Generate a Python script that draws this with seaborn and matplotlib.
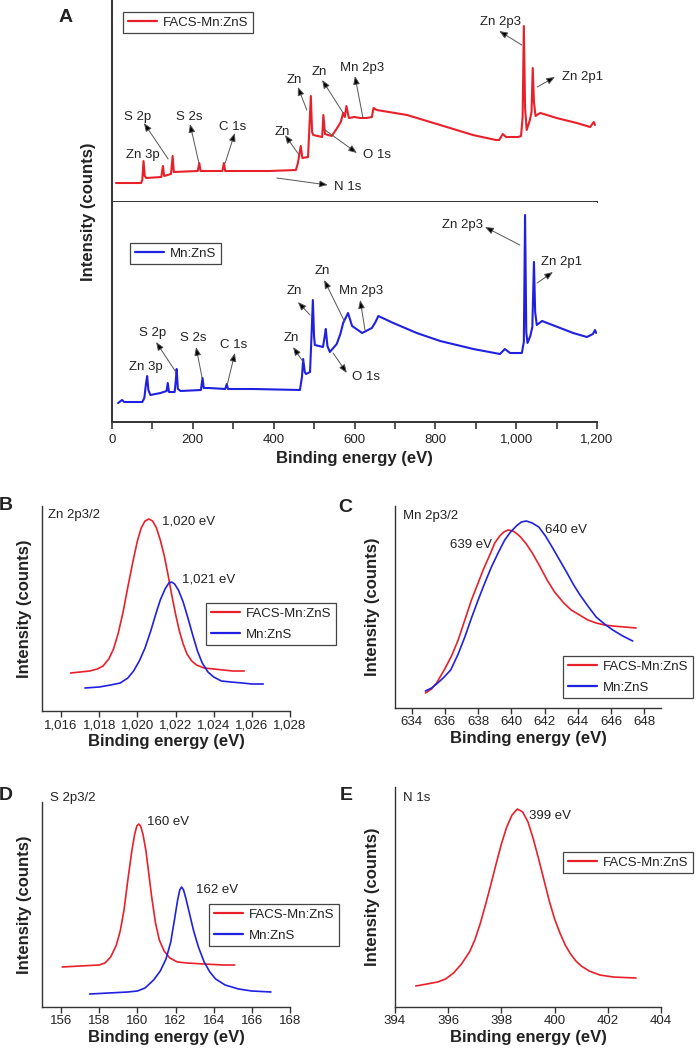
import pandas as pd
import matplotlib
matplotlib.use("Agg")
import matplotlib.pyplot as plt
import matplotlib.ticker as mticker
import seaborn as sns

# --------------------------------------------------
# data (binding energy in eV, intensity in arbitrary counts)
# --------------------------------------------------

# A - survey spectra
survey_facs_be = [10, 72, 75, 78, 81, 85, 122, 126, 129, 146, 150, 153, 212, 216, 219,
                  273, 277, 280, 390, 455, 460, 467, 471, 485, 489, 492, 495, 498, 520,
                  523, 527, 535, 544, 557, 566, 572, 576, 580, 586, 600, 614, 630, 643,
                  647, 655, 730, 812, 893, 950, 958, 967, 975, 1005, 1012, 1016, 1019,
                  1022, 1026, 1034, 1038, 1041, 1044, 1048, 1055, 1060, 1100, 1150, 1183,
                  1192, 1195]
survey_facs_int = [19, 19, 22, 41, 26, 24, 25, 36, 26, 28, 46, 30, 31, 39, 31,
                   31, 39, 31, 31, 32, 39, 56, 44, 45, 80, 106, 70, 67, 65,
                   87, 68, 67, 66, 74, 80, 89, 85, 96, 84, 85, 84, 84, 85,
                   94, 92, 87, 77, 67, 62, 62, 68, 65, 65, 66, 85, 176,
                   95, 72, 82, 90, 134, 100, 86, 88, 89, 84, 79, 75,
                   80, 77]

survey_mnzns_be = [15, 25, 30, 75, 80, 84, 87, 90, 95, 120, 135, 138, 141, 155, 158,
                   160, 163, 170, 220, 224, 227, 240, 280, 284, 287, 350, 465, 470, 473,
                   477, 480, 490, 494, 497, 500, 502, 522, 526, 529, 533, 539, 556, 565,
                   572, 584, 594, 619, 643, 652, 659, 696, 754, 812, 894, 960, 972, 985,
                   1014, 1019, 1022, 1025, 1028, 1035, 1040, 1044, 1047, 1051, 1064, 1141,
                   1175, 1190, 1195, 1198]
survey_mnzns_int = [19, 22, 20, 20, 24, 38, 46, 32, 27, 29, 31, 39, 30, 30, 42,
                    53, 33, 31, 32, 44, 34, 34, 33, 38, 33, 33, 32, 45, 63,
                    50, 48, 50, 90, 122, 85, 77, 75, 85, 93, 76, 70, 78, 88,
                    99, 109, 96, 89, 94, 100, 106, 99, 89, 81, 73, 68, 73, 69,
                    69, 80, 207, 90, 79, 86, 95, 160, 110, 97, 101, 89,
                    85, 88, 92, 89]

# B - Zn 2p3/2
zn_facs_be = [1016.5, 1017.0, 1017.5, 1017.9, 1018.2, 1018.5, 1018.75, 1019.0, 1019.25,
              1019.5, 1019.75, 1020.0, 1020.2, 1020.4, 1020.6, 1020.8, 1021.0, 1021.2,
              1021.4, 1021.6, 1021.8, 1022.0, 1022.2, 1022.4, 1022.6, 1022.85, 1023.1,
              1023.5, 1024.0, 1024.5, 1025.0, 1025.6]
zn_facs_int = [38, 39, 40, 42, 45, 52, 62, 78, 99, 124, 148, 170, 183, 190, 192, 190,
               183, 171, 156, 137, 116, 97, 80, 67, 57, 50, 46, 43, 42, 41, 40, 40]
zn_mnzns_be = [1017.25, 1018.0, 1018.6, 1019.1, 1019.5, 1019.8, 1020.1, 1020.4, 1020.7,
               1020.95, 1021.2, 1021.45, 1021.65, 1021.8, 1021.95, 1022.15, 1022.4,
               1022.65, 1022.9, 1023.15, 1023.4, 1023.7, 1024.0, 1024.4, 1024.9, 1025.5,
               1026.0, 1026.6]
zn_mnzns_int = [23, 24, 26, 28, 33, 40, 50, 63, 80, 96, 111, 122, 128, 129, 127, 121,
                109, 93, 76, 60, 48, 39, 34, 30, 29, 28, 27, 27]

# C - Mn 2p3/2
mn_facs_be = [634.83, 635.2, 635.5, 635.96, 636.4, 636.8, 637.2, 637.6, 638.0, 638.3,
              638.7, 639.0, 639.3, 639.55, 639.8, 640.1, 640.35, 640.55, 640.9, 641.26,
              641.7, 642.15, 642.6, 643.15, 643.6, 644.1, 644.6, 645.1, 645.6, 646.1,
              646.8, 647.5]
mn_facs_int = [15, 19, 25, 38, 52, 68, 88, 108, 125, 138, 153, 165, 172, 176, 178, 177,
               174, 171, 164, 155, 142, 128, 116, 105, 98, 93, 88, 85, 83, 82, 81, 80]
mn_mnzns_be = [634.83, 635.2, 635.5, 635.9, 636.35, 636.8, 637.2, 637.6, 638.0, 638.4,
               638.8, 639.2, 639.6, 639.95, 640.3, 640.6, 640.9, 641.25, 641.65, 642.05,
               642.45, 642.9, 643.35, 643.75, 644.13, 644.6, 645.1, 645.6, 646.1, 646.7,
               647.3]
mn_mnzns_int = [17, 20, 24, 30, 38, 54, 71, 90, 108, 125, 141, 155, 168, 176, 182, 186,
                187, 185, 181, 172, 161, 148, 135, 123, 113, 102, 91, 84, 78, 72, 67]

# D - S 2p3/2
s_facs_be = [156.06, 157.0, 158.0, 158.3, 158.6, 158.9, 159.1, 159.3, 159.5, 159.7,
             159.85, 159.97, 160.07, 160.17, 160.3, 160.45, 160.6, 160.75, 160.95,
             161.15, 161.4, 161.7, 162.1, 162.6, 163.5, 164.5, 165.1]
s_facs_int = [40, 41, 42, 44, 50, 62, 76, 97, 127, 155, 172, 181, 183, 181, 172, 156,
              133, 110, 84, 67, 56, 49, 45, 44, 43, 42, 42]
s_mnzns_be = [157.5, 158.5, 159.5, 160.0, 160.4, 160.85, 161.2, 161.5, 161.75, 161.95,
              162.1, 162.22, 162.32, 162.42, 162.55, 162.75, 162.95, 163.2, 163.5, 163.8,
              164.1, 164.6, 165.3, 166.0, 167.0]
s_mnzns_int = [13, 14, 15, 16, 19, 27, 36, 48, 65, 88, 106, 117, 120, 117, 108, 92, 76,
               60, 45, 35, 28, 22, 18, 16, 15]

# E - N 1s
n_facs_be = [394.78, 395.2, 395.6, 395.9, 396.2, 396.5, 396.8, 397.0, 397.2, 397.4,
             397.6, 397.8, 398.0, 398.2, 398.4, 398.6, 398.8, 399.0, 399.2, 399.4,
             399.6, 399.8, 400.0, 400.2, 400.4, 400.6, 400.8, 401.0, 401.3, 401.7,
             402.2, 402.6, 403.06]
n_facs_int = [21, 23, 25, 28, 34, 43, 55, 67, 83, 102, 122, 143, 163, 180, 192, 198,
              195, 185, 168, 148, 127, 106, 88, 74, 62, 53, 46, 41, 36, 32, 30, 29.5, 29]

FACS = "FACS-Mn:ZnS"
MNZNS = "Mn:ZnS"

# survey peak labels: (text, text_x, text_y, arrow head, arrow tail)
top_labels = [
    ("Zn 3p", 77, 47, None, None),
    ("S 2p", 64, 85, (79, 79), (139, 43)),
    ("S 2s", 191, 85, (193, 78), (215, 39)),
    ("C 1s", 299, 75, (304, 69), (280, 39)),
    ("Zn", 421, 70, (428, 67), (463, 47)),
    ("Zn", 450, 122, (460, 115), (482, 92)),
    ("Zn", 512, 130, (520, 122), (572, 89)),
    ("Mn 2p3", 619, 134, (601, 126), (621, 84)),
    ("O 1s", 656, 47, (606, 49), (527, 72)),
    ("N 1s", 584, 15, (534, 17), (408, 24)),
    ("Zn 2p3", 960, 180, (958, 171), (1014, 157)),
    ("Zn 2p1", 1165, 125, (1096, 125), (1052, 115)),
]
bottom_labels = [
    ("Zn 3p", 84, 55, None, None),
    ("S 2p", 101, 89, (109, 80), (158, 50)),
    ("S 2s", 200, 84, (208, 75), (223, 44)),
    ("C 1s", 302, 77, (304, 69), (285, 37)),
    ("Zn", 443, 84, (448, 75), (473, 60)),
    ("Zn", 450, 131, (460, 120), (490, 107)),
    ("Zn", 520, 151, (525, 142), (576, 100)),
    ("Mn 2p3", 616, 131, (614, 122), (626, 92)),
    ("O 1s", 628, 45, (581, 49), (547, 69)),
    ("Zn 2p3", 868, 197, (923, 195), (1009, 177)),
    ("Zn 2p1", 1113, 160, (1091, 150), (1052, 139)),
]

# --------------------------------------------------
# style
# --------------------------------------------------
sns.set_style("ticks")
plt.rcParams["font.family"] = ["Liberation Sans", "DejaVu Sans"]
plt.rcParams["axes.edgecolor"] = "#333333"
plt.rcParams["xtick.color"] = "#333333"
plt.rcParams["xtick.labelcolor"] = "#222222"
plt.rcParams["xtick.labelsize"] = 9.5
plt.rcParams["xtick.major.size"] = 4
plt.rcParams["xtick.direction"] = "out"

RED = "#e8202a"
BLUE = "#2020e0"
TXT = "#222222"

W, H = 696, 1050
fig = plt.figure(figsize=(W / 100, H / 100), dpi=100)


def px_axes(x0, y0, x1, y1):
    return fig.add_axes([x0 / W, 1 - y1 / H, (x1 - x0) / W, (y1 - y0) / H])


def frame(ax, lw=1.0):
    for s in ["top", "right"]:
        ax.spines[s].set_visible(False)
    ax.spines["left"].set_linewidth(lw)
    ax.spines["bottom"].set_linewidth(lw)
    ax.set_yticks([])
    ax.set_ylabel("")


def legend(ax, x, y, labels_colors, size=9.5):
    handles = [plt.Line2D([], [], color=c, lw=1.6) for _, c in labels_colors]
    lg = ax.legend(handles, [l for l, _ in labels_colors], loc="upper left",
                   bbox_to_anchor=(x / W, 1 - y / H), bbox_transform=fig.transFigure,
                   borderaxespad=0, fancybox=False, framealpha=1, edgecolor="#444444",
                   fontsize=size, handlelength=2.2, handletextpad=0.5,
                   borderpad=0.35, labelspacing=0.65)
    lg.get_frame().set_linewidth(0.9)
    for t in lg.get_texts():
        t.set_color(TXT)


def label_peaks(ax, labels):
    for name, tx, ty, head, tail in labels:
        ax.text(tx, ty, name, ha="center", va="center", fontsize=9.5, color=TXT)
        if head is not None:
            ax.annotate("", xy=head, xytext=tail,
                        arrowprops=dict(arrowstyle="-|>,head_length=0.5,head_width=0.2",
                                        fc="black", ec="#555555", lw=0.7,
                                        shrinkA=0, shrinkB=0))


# --------------------------------------------------
# A - survey
# --------------------------------------------------
axA1 = px_axes(112, 0, 597, 202)
axA2 = px_axes(112, 202, 597, 422)

sns.lineplot(x=survey_facs_be, y=survey_facs_int, ax=axA1, color=RED, lw=1.5)
sns.lineplot(x=survey_mnzns_be, y=survey_mnzns_int, ax=axA2, color=BLUE, lw=1.5)

for ax, top in [(axA1, 202), (axA2, 220)]:
    frame(ax, lw=1.4)
    ax.set_xlim(0, 1200)
    ax.set_ylim(0, top)
axA1.set_xticks([])
axA1.set_xlabel("")
axA2.xaxis.set_major_locator(mticker.MultipleLocator(200))
axA2.xaxis.set_minor_locator(mticker.MultipleLocator(100))
axA2.xaxis.set_major_formatter(mticker.FuncFormatter(lambda v, p: f"{v:,.0f}"))
axA2.tick_params(axis="x", which="both", length=5, width=1.2)
axA2.set_xlabel("Binding energy (eV)", fontsize=12, fontweight="bold", color=TXT, labelpad=4)

label_peaks(axA1, top_labels)
label_peaks(axA2, bottom_labels)
legend(axA1, 123, 12, [(FACS, RED)])
legend(axA2, 130, 243, [(MNZNS, BLUE)])

fig.text(88 / W, 1 - 212 / H, "Intensity (counts)", rotation=90, ha="center", va="center",
         fontsize=12, fontweight="bold", color=TXT)
fig.text(66 / W, 1 - 18 / H, "A", ha="center", va="center", fontsize=14,
         fontweight="bold", color=TXT)

# --------------------------------------------------
# B-E - high resolution spectra
# --------------------------------------------------
axB = px_axes(42, 506, 290, 711)
axC = px_axes(395, 506, 661, 708)
axD = px_axes(42, 802, 290, 1007)
axE = px_axes(395, 787, 661, 1007)

panels = [
    (axB, "B", (6, 505), 25, "Zn 2p3/2", (48, 515), (1015, 1028), range(1016, 1029, 2), 205,
     [(zn_facs_be, zn_facs_int, RED), (zn_mnzns_be, zn_mnzns_int, BLUE)],
     [("1,020 eV", 1021.3, 190, "left"), ("1,021 eV", 1022.34, 131, "left")],
     (206, 603), [(FACS, RED), (MNZNS, BLUE)]),
    (axC, "C", (345, 507), 373, "Mn 2p3/2", (403, 516), (633, 649), range(634, 649, 2), 202,
     [(mn_facs_be, mn_facs_int, RED), (mn_mnzns_be, mn_mnzns_int, BLUE)],
     [("639 eV", 638.85, 163, "right"), ("640 eV", 642.0, 178, "left")],
     (563, 656), [(FACS, RED), (MNZNS, BLUE)]),
    (axD, "D", (6, 795), 25, "S 2p3/2", (50, 798), (155, 168), range(156, 169, 2), 205,
     [(s_facs_be, s_facs_int, RED), (s_mnzns_be, s_mnzns_int, BLUE)],
     [("160 eV", 160.5, 185, "left"), ("162 eV", 163.07, 117, "left")],
     (209, 904), [(FACS, RED), (MNZNS, BLUE)]),
    (axE, "E", (346, 795), 373, "N 1s", (403, 798), (394, 404), range(394, 405, 2), 220,
     [(n_facs_be, n_facs_int, RED)],
     [("399 eV", 399.04, 191, "left")],
     (563, 852), [(FACS, RED)]),
]

for (ax, letter, letter_xy, ylab_x, title, title_xy, xlim, ticks, top, curves, peaks,
     leg_xy, leg_items) in panels:
    for xs, ys, col in curves:
        sns.lineplot(x=xs, y=ys, ax=ax, color=col, lw=1.2)
    frame(ax, lw=1.0)
    ax.set_xlim(*xlim)
    ax.set_ylim(0, top)
    ax.set_xticks(list(ticks))
    ax.xaxis.set_major_formatter(mticker.FuncFormatter(lambda v, p: f"{v:,.0f}"))
    ax.tick_params(axis="x", length=4, width=1.0, pad=2)
    ax.set_xlabel("Binding energy (eV)", fontsize=12, fontweight="bold", color=TXT, labelpad=2)
    for txt, px, py, ha in peaks:
        ax.text(px, py, txt, ha=ha, va="center", fontsize=9.5, color=TXT)
    legend(ax, leg_xy[0], leg_xy[1], leg_items)
    fig.text(title_xy[0] / W, 1 - title_xy[1] / H, title, ha="left", va="center",
             fontsize=9.5, color=TXT)
    pos = ax.get_position()
    fig.text(ylab_x / W, (pos.y0 + pos.y1) / 2, "Intensity (counts)", rotation=90,
             ha="center", va="center", fontsize=12, fontweight="bold", color=TXT)
    fig.text(letter_xy[0] / W, 1 - letter_xy[1] / H, letter, ha="center", va="center",
             fontsize=14, fontweight="bold", color=TXT)

fig.savefig("out.png", dpi=100)
